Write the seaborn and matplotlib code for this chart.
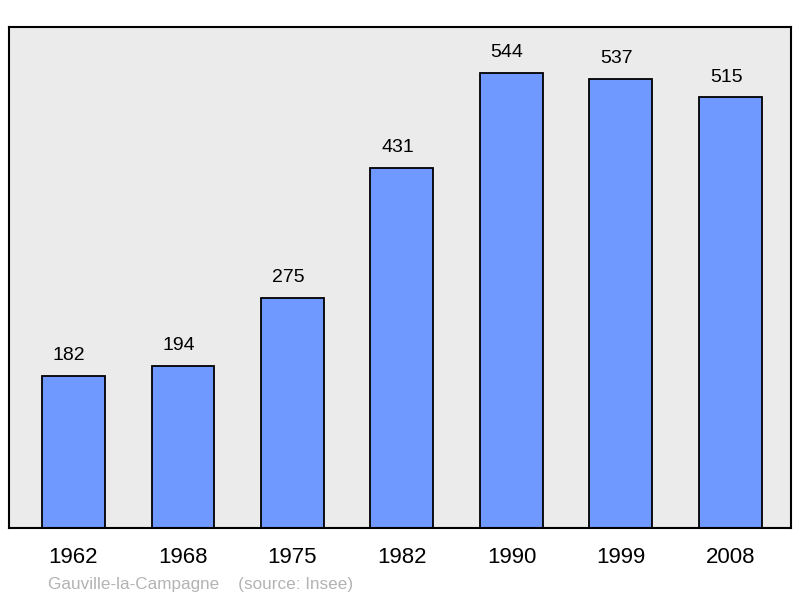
import pandas as pd
import matplotlib
matplotlib.use("Agg")
import matplotlib.pyplot as plt
import seaborn as sns

years = ["1962", "1968", "1975", "1982", "1990", "1999", "2008"]
population = [182, 194, 275, 431, 544, 537, 515]

df = pd.DataFrame({"year": years, "pop": population})

sns.set_style("white")
plt.rcParams["font.family"] = ["Liberation Sans", "DejaVu Sans"]

fig = plt.figure(figsize=(8, 5.98), dpi=100)
ax = fig.add_axes([9 / 800, 1 - 528 / 598, 782 / 800, 501 / 598])
ax.set_facecolor("#ebebeb")

sns.barplot(data=df, x="year", y="pop", color="#7099ff", width=0.575,
            saturation=1, edgecolor="black", linewidth=1.3, ax=ax, zorder=2)

# value labels sit a little left of bar centre in the original
for i, v in enumerate(population):
    ax.text(i - 0.04, v + 14, str(v), ha="center", va="bottom", fontsize=14, color="black")

ax.set_xlim(-0.589, 6.553)
ax.set_ylim(0, 599)
ax.set_yticks([])
ax.set_xlabel("")
ax.set_ylabel("")
ax.tick_params(axis="x", length=0, labelsize=16, pad=14, labelcolor="black")
for s in ax.spines.values():
    s.set_visible(True)
    s.set_color("black")
    s.set_linewidth(1.5)

fig.text(48 / 800, 1 - 584 / 598, "Gauville-la-Campagne    (source: Insee)",
         color="#b3b3b3", fontsize=12.3, va="center", ha="left")

fig.savefig("out.png", dpi=100)
